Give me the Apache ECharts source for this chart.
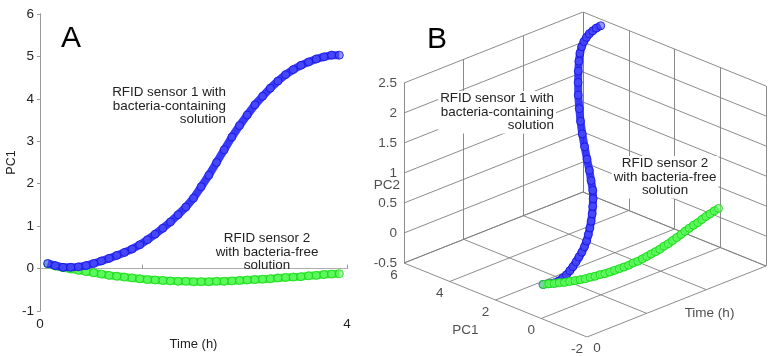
<!DOCTYPE html>
<html><head><meta charset="utf-8">
<script src="https://cdn.jsdelivr.net/npm/echarts@6/dist/echarts.min.js"></script>
<style>html,body{margin:0;padding:0;background:#fff}#c{width:771px;height:356px}</style>
</head><body><div id="c"></div>
<script>
// ---- data ----
const time = [0.1,0.2,0.3,0.4,0.5,0.6,0.7,0.8,0.9,1.0,1.1,1.2,1.3,1.4,1.5,1.6,1.7,1.8,1.9,2.0,2.1,2.2,2.3,2.4,2.5,2.6,2.7,2.8,2.9,3.0,3.1,3.2,3.3,3.4,3.5,3.6,3.7,3.8,3.9];
const pc1Sensor1 = [0.12,0.07,0.03,0.03,0.04,0.07,0.12,0.18,0.24,0.31,0.38,0.46,0.56,0.68,0.81,0.95,1.10,1.27,1.45,1.66,1.93,2.20,2.50,2.80,3.10,3.37,3.62,3.86,4.06,4.25,4.42,4.57,4.69,4.79,4.87,4.94,4.99,5.03,5.03];
const pc1Sensor2 = [0.11,0.06,0.02,-0.01,-0.04,-0.07,-0.10,-0.13,-0.16,-0.18,-0.20,-0.22,-0.24,-0.26,-0.27,-0.28,-0.29,-0.30,-0.30,-0.31,-0.31,-0.31,-0.30,-0.30,-0.29,-0.28,-0.27,-0.26,-0.25,-0.24,-0.22,-0.21,-0.20,-0.19,-0.17,-0.16,-0.14,-0.13,-0.12];
const pc2Sensor1 = [0.02,0.01,0.00,0.00,0.02,0.04,0.07,0.10,0.14,0.18,0.22,0.27,0.32,0.38,0.44,0.50,0.57,0.64,0.71,0.79,0.88,0.98,1.09,1.22,1.36,1.50,1.64,1.80,1.95,2.08,2.19,2.27,2.33,2.37,2.40,2.42,2.43,2.44,2.45];
const pc2Sensor2 = [0.02,0.01,-0.01,-0.02,-0.04,-0.05,-0.06,-0.07,-0.08,-0.08,-0.09,-0.09,-0.10,-0.10,-0.10,-0.10,-0.10,-0.10,-0.09,-0.09,-0.08,-0.07,-0.06,-0.05,-0.04,-0.02,-0.01,0.01,0.03,0.05,0.07,0.09,0.11,0.12,0.14,0.16,0.17,0.19,0.20];
const pc1TicksA = [-1,0,1,2,3,4,5,6];
const timeTicks = [0, 4/3, 8/3, 4];
const timeTickLabels = ['0','','','4'];
const pc2Ticks3d = [-0.5,0,0.5,1,1.5,2,2.5];
const pc1Ticks3d = [6,4,2,0,-2];
const pc1Range3d = [-2,6];
const timeRange3d = [0,4];
const pc2Range3d = [-0.5,2.5];

// ---- oblique view of the 3D box (screen units) ----
function proj(p1, t, p2){
  return [-22.875*(p1-pc1Range3d[0]) + 44.75*t, 9.25*(p1-pc1Range3d[0]) + 17.75*t + 60*(p2-pc2Range3d[0])];
}

const FONT = 'Liberation Sans, Arial, sans-serif';
const TXT = '#222';
const GRIDC = '#7f7f7f';

// grid lines of panel B
const segs = [];
function seg(a,b){ segs.push({coords:[a,b]}); }
pc2Ticks3d.forEach(z=>{
  seg(proj(6,0,z), proj(6,4,z));
  seg(proj(6,4,z), proj(-2,4,z));
});
timeTicks.forEach(t=>{
  seg(proj(6,t,-0.5), proj(6,t,2.5));
  seg(proj(6,t,-0.5), proj(-2,t,-0.5));
});
pc1Ticks3d.forEach(p=>{
  seg(proj(p,4,-0.5), proj(p,4,2.5));
  seg(proj(p,0,-0.5), proj(p,4,-0.5));
});

const blueA = time.map((t,i)=>[t,pc1Sensor1[i]]);
const greenA = time.map((t,i)=>[t,pc1Sensor2[i]]);
const blueB = time.map((t,i)=>proj(pc1Sensor1[i], t, pc2Sensor1[i]));
const greenB = time.map((t,i)=>proj(pc1Sensor2[i], t, pc2Sensor2[i]));

const blueStyle = {
  symbol:'circle', symbolSize:8,
  itemStyle:{color:'rgba(80,80,255,0.6)', borderColor:'rgba(20,20,225,0.85)', borderWidth:1},
  lineStyle:{color:'rgba(40,40,250,0.92)', width:8}
};
const greenStyle = {
  symbol:'circle', symbolSize:8,
  itemStyle:{color:'rgba(110,255,110,0.6)', borderColor:'rgba(20,215,20,0.85)', borderWidth:1},
  lineStyle:{color:'rgba(50,240,50,0.92)', width:8}
};

const zLabels = pc2Ticks3d.map(z=>({value:proj(6,0,z), name:String(z)}));
const p1Labels = pc1Ticks3d.map(p=>({value:proj(p,0,-0.5), name:String(p)}));
const L = {color:TXT, fontSize:13.5, fontFamily:FONT};

const chart = echarts.init(document.getElementById('c'), null, {renderer:'canvas'});
chart.setOption({
  animation:false,
  backgroundColor:'#fff',
  grid:[
    {left:40, top:14, width:307, height:309},
    {left:404, top:12, width:362, height:325}
  ],
  xAxis:[
    {gridIndex:0, type:'value', min:0, max:4, interval:4/3,
      axisLine:{show:true, lineStyle:{color:'#999', type:'dotted', width:1}},
      axisTick:{show:true, inside:true, length:4, lineStyle:{color:'#999'}},
      axisLabel:Object.assign({margin:6,
        formatter:v=>{const i=timeTicks.findIndex(x=>Math.abs(x-v)<1e-6); return i>=0?timeTickLabels[i]:'';}}, L),
      splitLine:{show:false},
      name:'Time (h)', nameLocation:'middle', nameGap:27,
      nameTextStyle:{color:TXT, fontSize:13, fontFamily:FONT}},
    {gridIndex:0, type:'value', min:0, max:4, position:'top',
      axisLine:{show:true, lineStyle:{color:'#aaa', type:'dotted'}},
      axisTick:{show:false}, axisLabel:{show:false}, splitLine:{show:false}},
    {gridIndex:1, type:'value', min:-183, max:179, show:false}
  ],
  yAxis:[
    {gridIndex:0, type:'value', min:-1, max:6, interval:1,
      axisLine:{show:true, lineStyle:{color:'#999'}},
      axisTick:{show:true, length:3, lineStyle:{color:'#999'}},
      axisLabel:Object.assign({margin:6}, L),
      splitLine:{show:false},
      name:'PC1', nameLocation:'middle', nameGap:19, nameRotate:90,
      nameTextStyle:{color:TXT, fontSize:12.5, fontFamily:FONT}},
    {gridIndex:0, type:'value', min:-1, max:6, position:'right',
      axisLine:{show:true, lineStyle:{color:'#999'}},
      axisTick:{show:false}, axisLabel:{show:false}, splitLine:{show:false}},
    {gridIndex:1, type:'value', min:0, max:325, show:false}
  ],
  series:[
    Object.assign({type:'line', xAxisIndex:0, yAxisIndex:0, data:greenA, z:3}, greenStyle),
    Object.assign({type:'line', xAxisIndex:0, yAxisIndex:0, data:blueA, z:4}, blueStyle),
    {type:'lines', coordinateSystem:'cartesian2d', xAxisIndex:2, yAxisIndex:2, data:segs,
      lineStyle:{color:GRIDC, width:0.9, opacity:1}, silent:true, z:1},
    Object.assign({type:'line', xAxisIndex:2, yAxisIndex:2, data:blueB, z:3, clip:false}, blueStyle),
    Object.assign({type:'line', xAxisIndex:2, yAxisIndex:2, data:greenB, z:4, clip:false}, greenStyle),
    {type:'scatter', xAxisIndex:2, yAxisIndex:2, symbolSize:0, clip:false, silent:true, data:zLabels,
      label:Object.assign({show:true, position:'left', distance:7, formatter:p=>p.name}, L)},
    {type:'scatter', xAxisIndex:2, yAxisIndex:2, symbolSize:0, clip:false, silent:true, data:p1Labels,
      label:Object.assign({show:true, position:'inside', offset:[-10,12], formatter:p=>p.name}, L)},
    {type:'scatter', xAxisIndex:2, yAxisIndex:2, symbolSize:0, clip:false, silent:true,
      data:[{value:proj(-2,0,-0.5), name:timeTickLabels[0]}],
      label:Object.assign({show:true, position:'inside', offset:[10,11], formatter:p=>p.name}, L)},
    {type:'scatter', xAxisIndex:2, yAxisIndex:2, symbolSize:0, clip:false, silent:true,
      data:[{value:proj(2,0,-0.5), name:'PC1'}],
      label:Object.assign({show:true, position:'inside', offset:[-30,30], formatter:p=>p.name}, L)},
    {type:'scatter', xAxisIndex:2, yAxisIndex:2, symbolSize:0, clip:false, silent:true,
      data:[{value:proj(-2,2,-0.5), name:'Time (h)'}],
      label:Object.assign({show:true, position:'inside', offset:[33,12], formatter:p=>p.name}, L)},
    {type:'scatter', xAxisIndex:2, yAxisIndex:2, symbolSize:0, clip:false, silent:true, z:6,
      data:[{value:proj(6,0,1), name:'PC2'}],
      label:Object.assign({show:true, position:'inside', offset:[-17,12], formatter:p=>p.name,
        backgroundColor:'#fff', padding:[0,1]}, L)}
  ],
  graphic:[
    {type:'text', z:100, style:{text:'A', x:71, y:39, align:'center', verticalAlign:'middle', font:'30px '+FONT, fill:'#000'}},
    {type:'text', z:100, style:{text:'B', x:437, y:40, align:'center', verticalAlign:'middle', font:'30px '+FONT, fill:'#000'}},
    {type:'text', z:100, style:{text:'RFID sensor 1 with\nbacteria-containing\nsolution', x:226, y:86, align:'right', verticalAlign:'top', font:'13.4px '+FONT, lineHeight:13.5, fill:TXT}},
    {type:'text', z:100, style:{text:'RFID sensor 2\nwith bacteria-free\nsolution', x:267, y:232, align:'center', verticalAlign:'top', font:'13.4px '+FONT, lineHeight:13.5, fill:TXT}},
    {type:'text', z:100, style:{text:'RFID sensor 1 with\nbacteria-containing\nsolution', x:556, y:91, align:'right', verticalAlign:'top', font:'13.4px '+FONT, lineHeight:13.5, fill:TXT, backgroundColor:'#fff', padding:[1,2]}},
    {type:'text', z:100, style:{text:'RFID sensor 2\nwith bacteria-free\nsolution', x:665, y:156, align:'center', verticalAlign:'top', font:'13.4px '+FONT, lineHeight:13.5, fill:TXT, backgroundColor:'#fff', padding:[1,2]}}
  ]
});
</script></body></html>
